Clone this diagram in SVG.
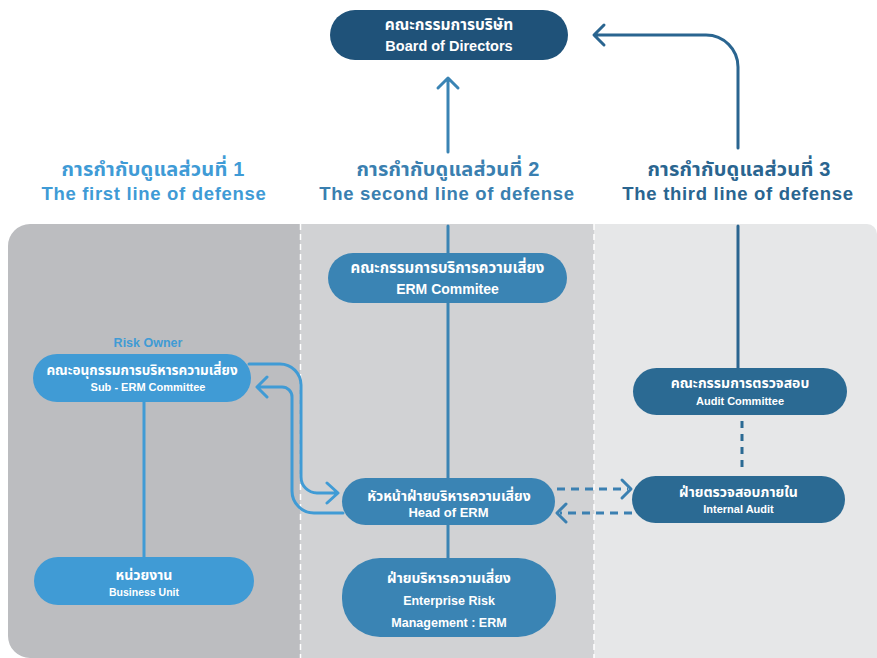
<svg xmlns="http://www.w3.org/2000/svg" width="877" height="658" viewBox="0 0 877 658">
<defs>
<style>
text{font-family:"Liberation Sans","Noto Sans Thai","Noto Sans",sans-serif;font-weight:bold;text-anchor:middle}
.w{fill:#ffffff}
.h{font-size:18.5px;letter-spacing:0.7px}
.ht{font-size:20px;letter-spacing:0.2px}
.c{fill:none;stroke-width:3;stroke-linecap:round;stroke-linejoin:round}
.lb{stroke:#409bd5}
.mb{stroke:#3a84b4}
.db{stroke:#2a6590}
</style>
<clipPath id="pc"><path d="M28,224 H867 A10,10 0 0 1 877,234 V658 H30 A22,22 0 0 1 8,636 V246 A22,22 0 0 1 30,224 Z"/></clipPath>
</defs>
<rect width="877" height="658" fill="#ffffff"/>
<g id="panels" clip-path="url(#pc)">
<rect x="0" y="224" width="300" height="434" fill="#bcbdc0"/>
<rect x="300" y="224" width="294" height="434" fill="#d1d2d4"/>
<rect x="594" y="224" width="283" height="434" fill="#e6e7e8"/>
<line x1="300.5" y1="224" x2="300.5" y2="658" stroke="#ffffff" stroke-width="1.5" stroke-dasharray="6 4"/>
<line x1="594" y1="224" x2="594" y2="658" stroke="#ffffff" stroke-width="1.5" stroke-dasharray="6 4"/>
</g>
<g id="headers">
<text class="ht" x="153" y="176" fill="#3f9bd6">การกำกับดูแลส่วนที่ 1</text>
<text class="h" x="154" y="200" fill="#3f9bd6">The first line of defense</text>
<text class="ht" x="448" y="176" fill="#3a7fb0">การกำกับดูแลส่วนที่ 2</text>
<text class="h" x="447" y="200" fill="#3a7fb0">The second line of defense</text>
<text class="ht" x="739" y="176" fill="#2a6590">การกำกับดูแลส่วนที่ 3</text>
<text class="h" x="738" y="200" fill="#2a6590">The third line of defense</text>
<text x="148" y="347" fill="#409bd5" font-size="12.5">Risk Owner</text>
</g>
<g id="connectors">
<path class="c mb" d="M448,152 V78 M438,88 L448,78 L458,88"/>
<path class="c db" d="M738,148 V67 A32,32 0 0 0 706,35 H595 M604,25 L594,35 L604,45"/>
<line class="c mb" x1="448" y1="226" x2="448" y2="560"/>
<line class="c db" x1="738" y1="226" x2="738" y2="370"/>
<line class="c lb" x1="144" y1="400" x2="144" y2="559"/>
<line x1="742" y1="421" x2="742" y2="471" stroke="#2b6a93" stroke-width="3" stroke-dasharray="7 6"/>
<line x1="557" y1="489" x2="628" y2="489" stroke="#3b80b1" stroke-width="3" stroke-dasharray="8 6"/>
<path class="c" stroke="#3b80b1" d="M622,480 L631,489 L622,498"/>
<line x1="632" y1="513" x2="560" y2="513" stroke="#3b80b1" stroke-width="3" stroke-dasharray="8 6"/>
<path class="c" stroke="#3b80b1" d="M566,504 L557,513 L566,522"/>
<path class="c lb" d="M249,364 H280 A21,21 0 0 1 301,385 V477 A16,16 0 0 0 317,493 H337 M327,483 L338,493 L327,503"/>
<path class="c lb" d="M258,387 H282 A10,10 0 0 1 292,397 V491 A22,22 0 0 0 314,513 H343 M267,377 L257,387 L267,397"/>
</g>
<g id="board">
<rect x="330" y="10" width="238" height="50" rx="25" fill="#1f5279"/>
<text class="w" x="449" y="30" font-size="15.5">คณะกรรมการบริษัท</text>
<text class="w" x="449" y="51" font-size="14.5">Board of Directors</text>
</g>
<g id="erm-committee">
<rect x="328" y="253" width="239" height="50" rx="25" fill="#3a84b4"/>
<text class="w" x="447.5" y="273" font-size="15">คณะกรรมการบริการความเสี่ยง</text>
<text class="w" x="447.5" y="294" font-size="14">ERM Commitee</text>
</g>
<g id="sub-erm">
<rect x="33" y="354" width="218" height="48" rx="24" fill="#409bd5"/>
<text class="w" x="142" y="375" font-size="13.5">คณะอนุกรรมการบริหารความเสี่ยง</text>
<text class="w" x="148" y="391" font-size="11">Sub - ERM Committee</text>
</g>
<g id="business-unit">
<rect x="34" y="557" width="220" height="48" rx="24" fill="#409bd5"/>
<text class="w" x="144" y="580" font-size="14">หน่วยงาน</text>
<text class="w" x="144" y="596" font-size="10.5">Business Unit</text>
</g>
<g id="head-erm">
<rect x="342" y="478" width="213" height="47" rx="23.5" fill="#3a84b4"/>
<text class="w" x="449" y="501" font-size="14">หัวหน้าฝ่ายบริหารความเสี่ยง</text>
<text class="w" x="448.5" y="517" font-size="13">Head of ERM</text>
</g>
<g id="erm">
<rect x="342" y="558" width="214" height="79" rx="38" fill="#3a84b4"/>
<text class="w" x="449" y="583" font-size="14">ฝ่ายบริหารความเสี่ยง</text>
<text class="w" x="449" y="605" font-size="12.5">Enterprise Risk</text>
<text class="w" x="449" y="627" font-size="12.5">Management : ERM</text>
</g>
<g id="audit-committee">
<rect x="633" y="368" width="214" height="47" rx="23.5" fill="#2b6a93"/>
<text class="w" x="740" y="388" font-size="14">คณะกรรมการตรวจสอบ</text>
<text class="w" x="740" y="405" font-size="11">Audit Committee</text>
</g>
<g id="internal-audit">
<rect x="632" y="476" width="213" height="47" rx="23.5" fill="#2b6a93"/>
<text class="w" x="738.5" y="497" font-size="14">ฝ่ายตรวจสอบภายใน</text>
<text class="w" x="738.5" y="513" font-size="11">Internal Audit</text>
</g>
</svg>
